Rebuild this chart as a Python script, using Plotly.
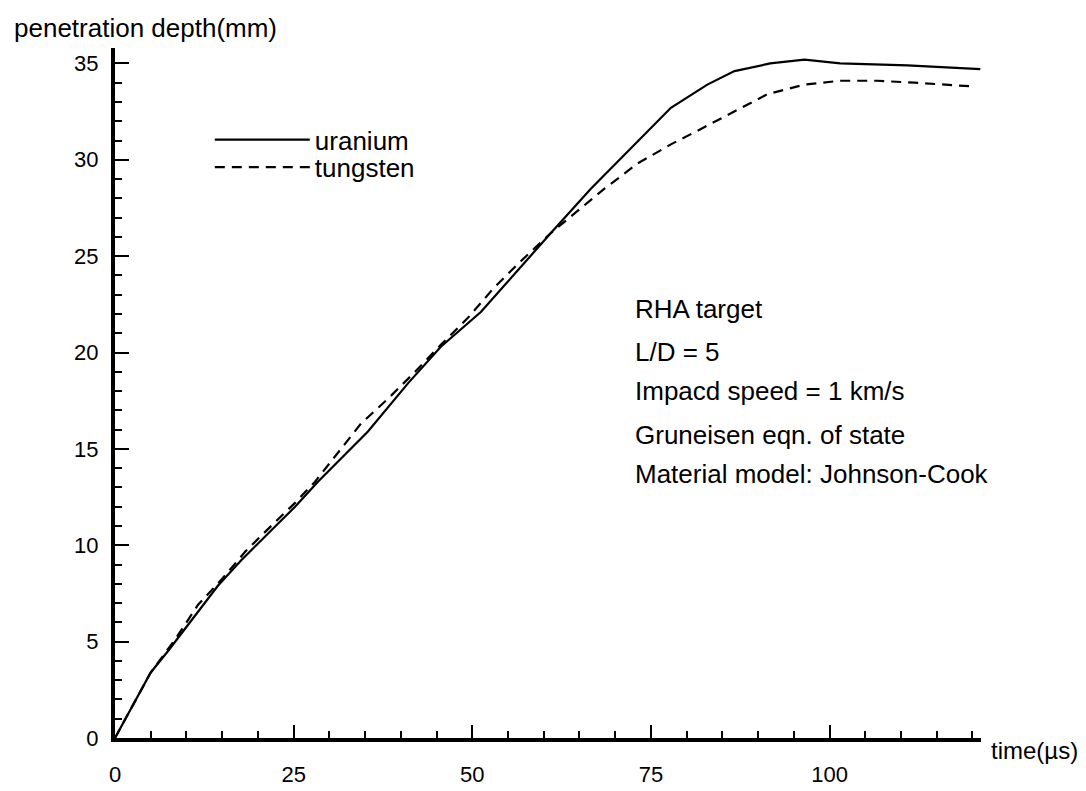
import plotly.graph_objects as go

# ---- data ----
uranium_t = [0, 5.0, 7.4, 14.4, 17.6, 25.2, 28.4, 35.4, 41.0, 45.6, 51.2, 54.5,
             61.0, 66.6, 72.7, 77.8, 82.9, 86.7, 91.7, 96.5, 101.5, 110.9, 121.1]
uranium_d = [0, 3.4, 4.5, 7.9, 9.2, 12.0, 13.3, 15.9, 18.4, 20.3, 22.1, 23.5,
             26.2, 28.5, 30.8, 32.7, 33.9, 34.6, 35.0, 35.2, 35.0, 34.9, 34.7]

tungsten_t = [0, 5.0, 8.4, 11.6, 15.1, 18.3, 22.4, 25.2, 28.0, 31.2, 34.4, 38.2,
              42.0, 45.6, 49.4, 52.9, 56.4, 61.0, 64.3, 68.5, 73.1, 77.8, 82.0,
              87.6, 91.3, 96.5, 101.5, 106.7, 111.9, 120.3]
tungsten_d = [0, 3.4, 5.1, 6.9, 8.3, 9.7, 11.2, 12.2, 13.3, 14.8, 16.3, 17.6,
              19.0, 20.4, 21.8, 23.3, 24.6, 26.2, 27.2, 28.5, 29.8, 30.8, 31.6,
              32.7, 33.4, 33.9, 34.1, 34.1, 34.0, 33.8]

x_ticks = [0, 25, 50, 75, 100]
y_ticks = [0, 5, 10, 15, 20, 25, 30, 35]
info_lines = ["RHA target", "L/D = 5", "Impacd speed = 1 km/s",
              "Gruneisen eqn. of state", "Material model: Johnson-Cook"]
info_y = [22.25, 20.05, 18.0, 15.7, 13.7]
info_x = 72.5

FONT = "Liberation Sans, Arial, Helvetica, sans-serif"

fig = go.Figure()
fig.add_trace(go.Scatter(x=uranium_t, y=uranium_d, mode="lines", name="uranium",
                         legend="legend", showlegend=True,
                         line=dict(color="black", width=2.2)))
fig.add_trace(go.Scatter(x=tungsten_t, y=tungsten_d, mode="lines", name="tungsten",
                         legend="legend2", showlegend=True,
                         line=dict(color="black", width=2.2, dash="10px,7px")))

for txt, yy in zip(info_lines, info_y):
    fig.add_annotation(x=info_x, y=yy, xref="x", yref="y", text=txt,
                       showarrow=False, xanchor="left", yanchor="middle",
                       font=dict(size=26, color="black", family=FONT))

fig.add_annotation(xref="paper", yref="paper", x=0, y=1, xanchor="left",
                   yanchor="middle", xshift=-103, yshift=20,
                   text="penetration depth(mm)", showarrow=False,
                   font=dict(size=26, color="black", family=FONT))
fig.add_annotation(xref="paper", yref="paper", x=1, y=0, xanchor="left",
                   yanchor="middle", xshift=8, yshift=-12,
                   text="time(µs)", showarrow=False,
                   font=dict(size=24, color="black", family=FONT))

leg_common = dict(xanchor="left", yanchor="middle", bgcolor="rgba(0,0,0,0)",
                  font=dict(size=26, color="black", family=FONT), itemwidth=95)

fig.update_layout(
    width=1086, height=791,
    margin=dict(l=107, r=113, t=40, b=51),
    paper_bgcolor="white", plot_bgcolor="white",
    font=dict(family=FONT, color="black"),
    showlegend=True,
    legend=dict(x=0.1095, y=0.8672, **leg_common),
    legend2=dict(x=0.1095, y=0.8272, **leg_common),
    xaxis=dict(range=[0, 121.2], showgrid=False, zeroline=False,
               showline=True, linewidth=4, linecolor="black",
               tickmode="array", tickvals=x_ticks,
               ticks="inside", ticklen=13, tickwidth=2, tickcolor="black",
               ticklabelstandoff=14,
               tickfont=dict(size=22, color="black", family=FONT),
               minor=dict(dtick=5, tick0=0, ticks="inside", ticklen=7,
                          tickwidth=1.5, tickcolor="black", showgrid=False)),
    yaxis=dict(range=[0, 35.8], showgrid=False, zeroline=False,
               showline=True, linewidth=4, linecolor="black",
               tickmode="array", tickvals=y_ticks,
               ticks="inside", ticklen=14, tickwidth=2, tickcolor="black",
               ticklabelstandoff=8,
               tickfont=dict(size=22, color="black", family=FONT),
               minor=dict(dtick=1, tick0=0, ticks="inside", ticklen=7,
                          tickwidth=1.5, tickcolor="black", showgrid=False)),
)

fig.write_html("out.html")
